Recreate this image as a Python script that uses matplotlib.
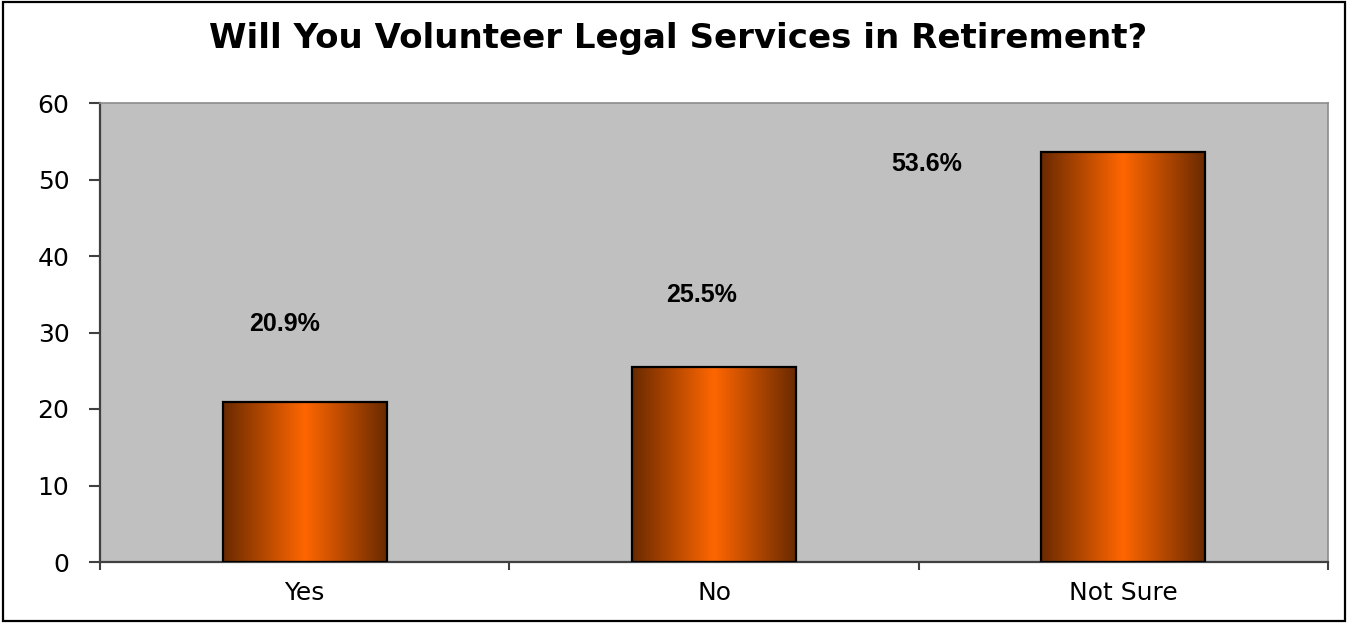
import numpy as np
import matplotlib
matplotlib.use("Agg")
import matplotlib.pyplot as plt
from matplotlib.colors import LinearSegmentedColormap
from matplotlib.patches import Rectangle

# survey results (percent)
categories = ["Yes", "No", "Not Sure"]
values = [20.9, 25.5, 53.6]
value_labels = ["20.9%", "25.5%", "53.6%"]
yticks = [0, 10, 20, 30, 40, 50, 60]

# where each value label sits relative to its bar top (x in bar units, y in percent)
label_dx = [-0.05, -0.03, -0.48]
label_dy = [10.2, 9.4, -1.6]

bar_width = 0.4
bar_cmap = LinearSegmentedColormap.from_list(
    "copper_bar", ["#6a2a00", "#ff6600", "#6a2a00"])

plt.rcParams['font.family'] = ['Liberation Sans', 'DejaVu Sans']

fig = plt.figure(figsize=(13.48, 6.23), dpi=100)
ax = fig.add_axes([100 / 1348, 61 / 623, 1228 / 1348, 459 / 623])
ax.set_facecolor("#c0c0c0")

grad = np.linspace(0, 1, 256).reshape(1, -1)
for i, v in enumerate(values):
    x0 = i - bar_width / 2
    rect = Rectangle((x0, 0), bar_width, v, facecolor="none",
                     edgecolor="black", linewidth=1.6, zorder=3)
    ax.add_patch(rect)
    im = ax.imshow(grad, cmap=bar_cmap, aspect="auto",
                   extent=(x0, x0 + bar_width, 0, v), zorder=2)
    im.set_clip_path(rect)
    ax.text(i + label_dx[i], v + label_dy[i], value_labels[i],
            ha="center", va="center", fontsize=18, fontweight="bold")

ax.set_xlim(-0.5, 2.5)
ax.set_ylim(0, 60)
ax.set_yticks(yticks)
ax.set_xticks(range(len(categories)))
ax.set_xticklabels(categories)
ax.tick_params(axis="x", length=0, pad=14)
ax.set_xticks(np.arange(-0.5, 3.0, 1.0), minor=True)
ax.tick_params(axis="x", which="minor", length=6, width=1.5, color="#404040",
               direction="out")
ax.tick_params(axis="y", length=8, width=1.5, color="#404040", pad=14)
for lbl in ax.get_xticklabels() + ax.get_yticklabels():
    lbl.set_family(["DejaVu Sans"])
    lbl.set_fontsize(18)

for side in ("left", "bottom"):
    ax.spines[side].set_color("#404040")
    ax.spines[side].set_linewidth(1.6)
for side in ("top", "right"):
    ax.spines[side].set_color("#8c8c8c")
    ax.spines[side].set_linewidth(1.2)

fig.text(0.503, 0.939, "Will You Volunteer Legal Services in Retirement?",
         ha="center", va="center", fontsize=24.5, fontweight="bold",
         family=["DejaVu Sans"])

# outer frame around the whole chart
fig.patches.append(Rectangle((0.002, 0.003), 0.996, 0.993, transform=fig.transFigure,
                             fill=False, edgecolor="black", linewidth=1.6))

fig.savefig("out.png", dpi=100)
